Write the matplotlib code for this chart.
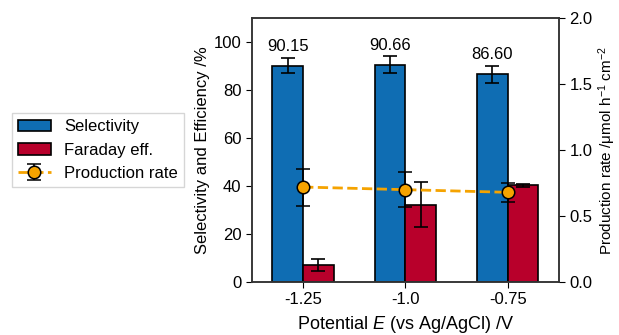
import numpy as np
import matplotlib
matplotlib.use("Agg")
from matplotlib import pyplot as plt

plt.rcParams['font.family'] = ['Liberation Sans', 'DejaVu Sans']
plt.rcParams['font.size'] = 12
plt.rcParams['mathtext.fontset'] = 'custom'
plt.rcParams['mathtext.rm'] = 'Liberation Sans'
plt.rcParams['mathtext.it'] = 'Liberation Sans:italic'

potentials = ["-1.25", "-1.0", "-0.75"]
selectivity = [90.15, 90.66, 86.60]
selectivity_err = [3.2, 3.5, 3.5]
faraday = [7.0, 32.3, 40.3]
faraday_err = [2.5, 9.5, 0.7]
rate = [0.72, 0.70, 0.68]
rate_err = [0.14, 0.135, 0.07]

blue = "#0f6db3"
red = "#b8002b"
orange = "#f5a300"

fig = plt.figure(figsize=(6.19, 3.35), dpi=100)
ax = fig.add_axes([0.407, 0.158, 0.496, 0.788])
x = np.arange(len(potentials))
w = 0.3
ek = dict(ecolor="black", capsize=5, elinewidth=1.2, capthick=1.2)
b1 = ax.bar(x - w/2, selectivity, w, yerr=selectivity_err, color=blue,
            edgecolor="black", linewidth=1.2, error_kw=ek, label="Selectivity")
b2 = ax.bar(x + w/2, faraday, w, yerr=faraday_err, color=red,
            edgecolor="black", linewidth=1.2, error_kw=ek, label="Faraday eff.")
for xi, s, e in zip(x, selectivity, selectivity_err):
    ax.text(xi - w/2, s + e + 1.5, "%.2f" % s, ha="center", va="bottom", fontsize=12)
ax.set_xlim(-0.5, 2.5)
ax.set_ylim(0, 110)
ax.set_yticks([0, 20, 40, 60, 80, 100])
ax.set_xticks(x)
ax.set_xticklabels(potentials)
ax.set_ylabel("Selectivity and Efficiency /%", labelpad=3)
ax.set_xlabel("Potential $E$ (vs Ag/AgCl) /V", fontsize=13, labelpad=5)

ax2 = ax.twinx()
l3 = ax2.errorbar(x, rate, yerr=rate_err, fmt="o--", color=orange, markersize=9,
                  markeredgecolor="black", markeredgewidth=1.1, ecolor="black",
                  capsize=5, elinewidth=1.2, capthick=1.2, linewidth=2,
                  label="Production rate")
ax2.set_ylim(0, 2.0)
ax2.set_yticks([0.0, 0.5, 1.0, 1.5, 2.0])
ax2.set_ylabel("Production rate /μmol h$^{-1}$ cm$^{-2}$", fontsize=11, labelpad=3)

for a in (ax, ax2):
    for s in a.spines.values():
        s.set_color("#333333")
        s.set_linewidth(1.1)
    a.tick_params(colors="black", length=4, labelcolor="black")

fig.legend(handles=[b1, b2, l3], loc="center left", bbox_to_anchor=(0.019, 0.552),
           frameon=True, fancybox=False, edgecolor="#cccccc", fontsize=12,
           handlelength=2.0, borderpad=0.35, labelspacing=0.5, handletextpad=0.8,
           borderaxespad=0)

fig.savefig("out.png", dpi=100)
